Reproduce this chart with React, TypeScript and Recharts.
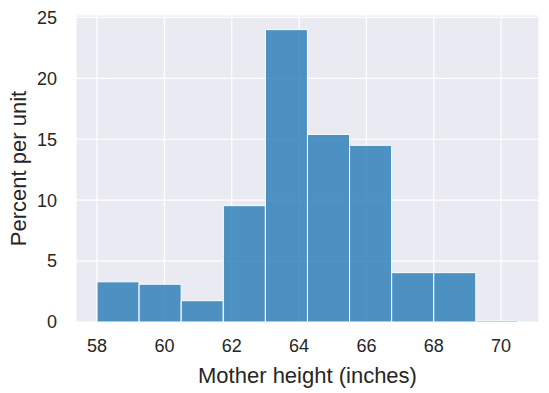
import { BarChart, Bar, XAxis, YAxis, CartesianGrid } from "recharts";

// histogram bins of width 1.25 inches, value = percent per unit
const binMids = [58.625, 59.875, 61.125, 62.375, 63.625, 64.875, 66.125, 67.375, 68.625, 69.875];
const percentPerUnit = [3.3, 3.1, 1.75, 9.55, 24.0, 15.4, 14.5, 4.05, 4.05, 0.1];
const xTicks = [58, 60, 62, 64, 66, 68, 70];
const yTicks = [0, 5, 10, 15, 20, 25];

const data = binMids.map((mid, i) => ({ mid, value: percentPerUnit[i] }));

const textColor = "#262626";
const font = "'Liberation Sans', Arial, sans-serif";

export default function App() {
  return (
    <div style={{ position: "absolute", left: 0, top: 0, fontFamily: font }}>
      <BarChart
        width={549}
        height={393}
        data={data}
        margin={{ top: 15, right: 10, left: 0, bottom: 0 }}
        barCategoryGap={0}
        barGap={0}
      >
        <CartesianGrid fill="#eaeaf2" stroke="#ffffff" strokeWidth={1.2} />
        <XAxis
          dataKey="mid"
          type="number"
          domain={[57.375, 71.125]}
          ticks={xTicks}
          allowDataOverflow
          height={71}
          tickLine={false}
          axisLine={false}
          tickSize={0}
          tickMargin={17}
          tick={{ fill: textColor, fontSize: 18, fontFamily: font }}
          label={{
            value: "Mother height (inches)",
            position: "center",
            dy: 18,
            fill: textColor,
            fontSize: 22,
            fontFamily: font,
          }}
        />
        <YAxis
          type="number"
          domain={[0, 25.2]}
          ticks={yTicks}
          allowDataOverflow
          width={76}
          tickLine={false}
          axisLine={false}
          tickSize={0}
          tickMargin={19}
          tick={{ fill: textColor, fontSize: 18, fontFamily: font }}
          label={{
            value: "Percent per unit",
            angle: -90,
            position: "center",
            dx: -20,
            fill: textColor,
            fontSize: 22,
            fontFamily: font,
          }}
        />
        <Bar
          dataKey="value"
          fill="#1f77b4"
          fillOpacity={0.78}
          stroke="#ffffff"
          strokeWidth={1}
          isAnimationActive={false}
        />
      </BarChart>
    </div>
  );
}
